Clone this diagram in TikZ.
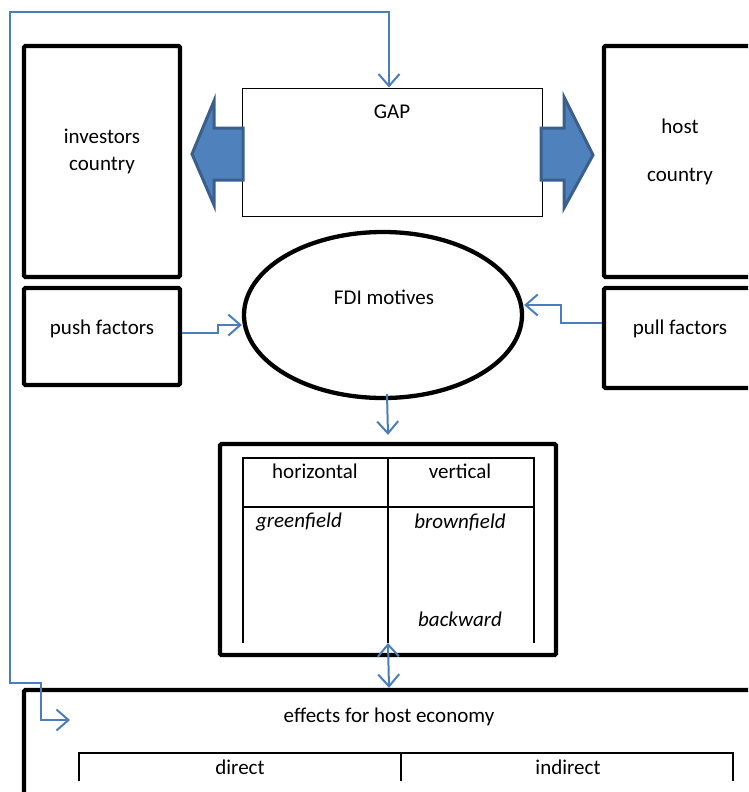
\documentclass[tikz,border=0pt]{standalone}
\usepackage{fontspec}
\setmainfont{Carlito}
\usetikzlibrary{arrows.meta,positioning,calc,shapes.geometric}
\definecolor{linkblue}{HTML}{4A7EBB}
\definecolor{arrowfill}{HTML}{4F81BD}
\definecolor{arrowedge}{HTML}{3A5F8C}
\tikzset{
    thickbox/.style={draw,line width=4.3pt,rounded corners=1.5pt,inner sep=0pt},
    thinbox/.style={draw,line width=1pt,inner sep=0pt},
    tabline/.style={draw,line width=2.2pt},
    conn/.style={draw=linkblue,line width=2pt,>={Straight Barb[length=12pt,width=21pt]},->},
    blockarrow/.style={fill=arrowfill,draw=arrowedge,line width=3pt,line join=miter},
    slanted/.style={font=\fontsize{21}{27}\selectfont\itshape}
}

\begin{document}
\begin{tikzpicture}[x=1pt,y=-1pt,font=\fontsize{21}{27}\selectfont]
                        \clip (0,0) rectangle (748,792);

                        % boxes
                        \node[thickbox,minimum width=156,minimum height=231] (inv) at (102,161.5) {};
                        \node[thickbox,minimum width=156,minimum height=97] (push) at (102,336.5) {};
                        \node[thickbox,minimum width=152,minimum height=231] (host) at (680,161.5) {};
                        \node[thickbox,minimum width=152,minimum height=100] (pull) at (680,338) {};
                        \node[thinbox,minimum width=300,minimum height=128] (gap) at (392,152) {};
                        \node[ellipse,thickbox,minimum width=278,minimum height=166] (fdi) at (383,315) {};
                        \node[thickbox,minimum width=336,minimum height=211] (tab) at (388,549.5) {};
                        \node[thickbox,minimum width=730,minimum height=110] (eff) at (389,745) {};

                        % texts
                        \node[align=center] (invtxt) at (102,151) {investors\\country};
                        \node (pushtxt) at (102,329) {push factors};
                        \node[align=center] (hosttxt) at (680,152) {host\\[21pt]country};
                        \node (pulltxt) at (680,329) {pull factors};
                        \node (gaptxt) at (392,112) {GAP};
                        \node (fditxt) at (384,297) {FDI motives};
                        \node (efftxt) at (389,717) {effects for host economy};

                        % table of FDI types
                        \draw[tabline] (243,643) -- (243,458) -- (534,458) -- (534,643);
                        \draw[tabline] (243,507) -- (534,507);
                        \draw[tabline] (388,458) -- (388,643);
                        \coordinate (tabfoot) at (388,643);
                        \node (horiz) at (315,471) {horizontal};
                        \node (vert) at (460,471) {vertical};
                        \node[slanted] (green) at (299,522) {greenfield};
                        \node[slanted] (brown) at (460,522) {brownfield};
                        \node[slanted] (backw) at (460,619) {backward};

                        % table of effects
                        \draw[tabline] (79,781) -- (79,753) -- (733,753) -- (733,781);
                        \draw[tabline] (401,753) -- (401,781);
                        \node (direct) at (240,767) {direct};
                        \node (indirect) at (568,767) {indirect};

                        % block arrows out of the gap
                        \filldraw[blockarrow] (243,128) -- (214,128) -- (214,101) -- (192,154) -- (214,205) -- (214,180) -- (243,180) -- cycle;
                        \filldraw[blockarrow] (541,128) -- (564,128) -- (564,97) -- (593,155) -- (564,208) -- (564,180) -- (541,180) -- cycle;

                        % connectors
                        \coordinate (loopin) at (70,720);
                        \draw[conn] ($(push.east)+(0,-3.5)$) -- ++(36,0) |- ($(fdi.west)+(0,10)$);
                        \draw[conn] ($(pull.west)+(0,-15)$) -- ++(-41,0) |- ($(fdi.east)+(0,-10)$);
                        \draw[conn] ($(fdi.south)+(4,-6)$) -- ($(tab.north)+(0,-7)$);
                        \draw[conn,<->] (tabfoot) -- (eff.north);
                        \draw[conn,<->] ($(gap.north)+(-3,0)$) |- (10,12) |- (41,683) |- (loopin);
                    \end{tikzpicture}
\end{document}
